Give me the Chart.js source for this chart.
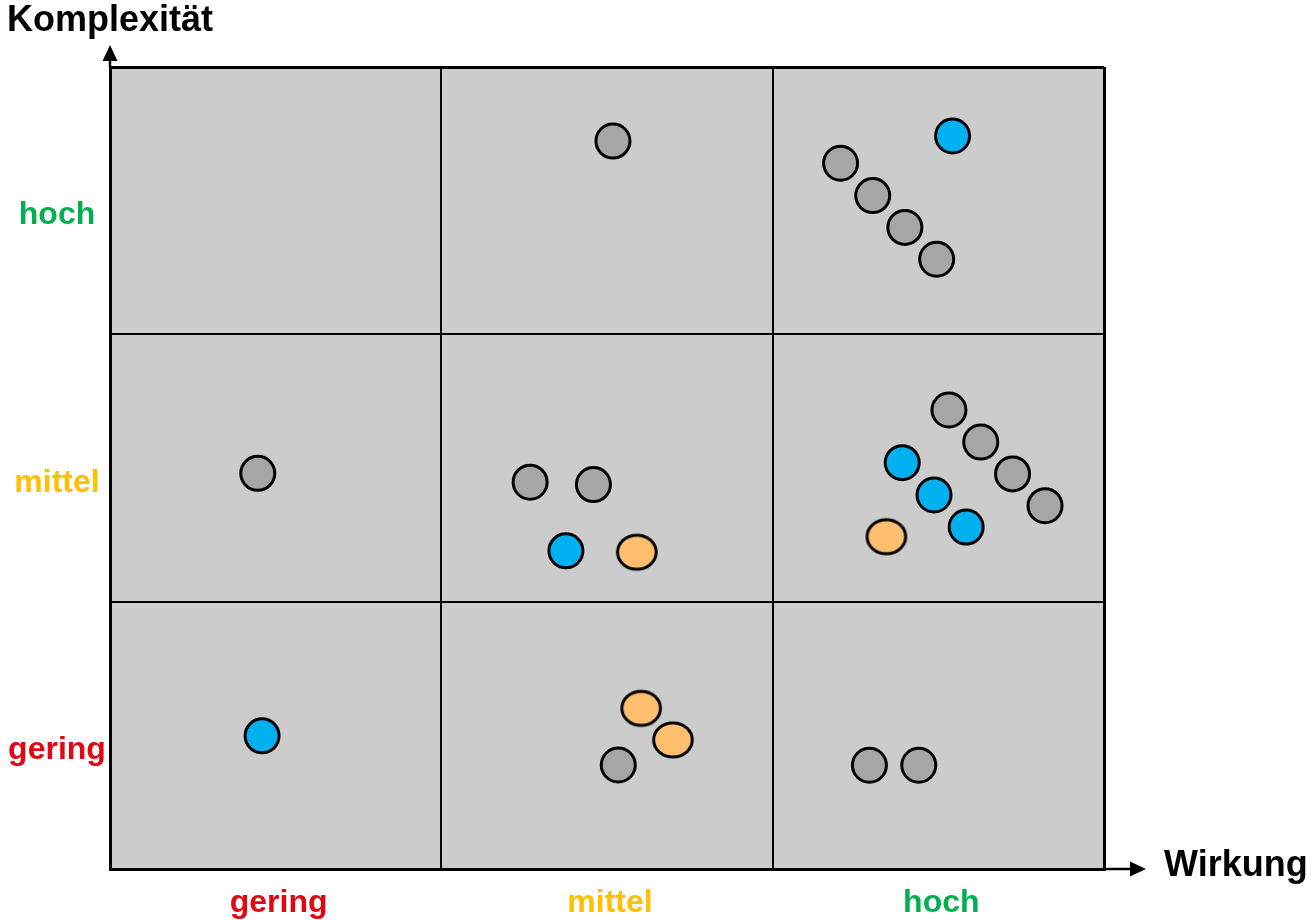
<!DOCTYPE html>
<html lang="de">
<head>
<meta charset="utf-8">
<title>Wirkung / Komplexität</title>
<script src="https://cdn.jsdelivr.net/npm/chart.js@4/dist/chart.umd.min.js"></script>
<style>
  html, body { margin: 0; padding: 0; background: #ffffff; }
  #wrap { width: 1315px; height: 920px; position: relative; }
</style>
</head>
<body>
<div id="wrap"><canvas id="matrix"></canvas></div>
<script>
// Category labels along each axis (low → high)
const xCategories = ['gering', 'mittel', 'hoch'];
const yCategories = ['gering', 'mittel', 'hoch'];
const categoryColors = ['#e30613', '#ffc000', '#00b050'];
const xTitle = 'Wirkung';
const yTitle = 'Komplexität';

// Measures in the matrix: x = Wirkung, y = Komplexität (0–3, one unit per category)
const grayX = [1.518, 2.205, 2.302, 2.399, 2.495, 0.446, 1.268, 1.459, 2.532, 2.628, 2.724, 2.822, 1.534, 2.292, 2.441];
const grayY = [2.723, 2.640, 2.519, 2.400, 2.281, 1.480, 1.447, 1.438, 1.717, 1.597, 1.478, 1.359, 0.389, 0.388, 0.388];

const blueX = [2.543, 2.391, 2.487, 2.584, 1.376, 0.459];
const blueY = [2.742, 1.520, 1.399, 1.279, 1.190, 0.498];

const orangeX = [1.590, 2.343, 1.603, 1.699];
const orangeY = [1.185, 1.243, 0.601, 0.483];

const toPoints = (xs, ys) => xs.map((x, i) => ({ x: x, y: ys[i] }));

// Elliptical marker for the orange series
function ellipseMarker(fill) {
  const c = document.createElement('canvas');
  c.width = 46; c.height = 42;
  const g = c.getContext('2d');
  g.beginPath();
  g.ellipse(23, 21, 19.3, 17, 0, 0, Math.PI * 2);
  g.fillStyle = fill;
  g.fill();
  g.lineWidth = 3;
  g.strokeStyle = '#000000';
  g.stroke();
  return c;
}

// Cell background, axis arrows, category labels and axis titles
const matrixDecor = {
  id: 'matrixDecor',
  beforeDraw(chart) {
    const { ctx, chartArea: a } = chart;
    ctx.save();
    ctx.fillStyle = '#cccccc';
    ctx.fillRect(a.left, a.top, a.right - a.left, a.bottom - a.top);
    ctx.restore();
  },
  afterDraw(chart) {
    const { ctx, chartArea: a, scales } = chart;
    const xs = scales.x, ys = scales.y;
    ctx.save();
    ctx.strokeStyle = '#000000';
    ctx.fillStyle = '#000000';
    ctx.lineWidth = 2.5;

    // vertical axis arrow
    ctx.beginPath();
    ctx.moveTo(a.left, a.top);
    ctx.lineTo(a.left, a.top - 8);
    ctx.stroke();
    ctx.beginPath();
    ctx.moveTo(a.left, a.top - 22);
    ctx.lineTo(a.left - 7.5, a.top - 6);
    ctx.lineTo(a.left + 7.5, a.top - 6);
    ctx.closePath();
    ctx.fill();

    // horizontal axis arrow
    ctx.beginPath();
    ctx.moveTo(a.right, a.bottom);
    ctx.lineTo(a.right + 28, a.bottom);
    ctx.stroke();
    ctx.beginPath();
    ctx.moveTo(a.right + 42, a.bottom);
    ctx.lineTo(a.right + 26, a.bottom - 7.5);
    ctx.lineTo(a.right + 26, a.bottom + 7.5);
    ctx.closePath();
    ctx.fill();

    // category labels
    ctx.font = 'bold 32px "Liberation Sans", Arial, sans-serif';
    ctx.textBaseline = 'middle';
    ctx.textAlign = 'center';
    xCategories.forEach((t, i) => {
      ctx.fillStyle = categoryColors[i];
      ctx.fillText(t, xs.getPixelForValue(i + 0.5) + 3, a.bottom + 34);
    });
    yCategories.forEach((t, i) => {
      ctx.fillStyle = categoryColors[i];
      ctx.fillText(t, 57, ys.getPixelForValue(i + 0.5) + 15);
    });

    // axis titles
    ctx.fillStyle = '#000000';
    ctx.textAlign = 'left';
    ctx.font = 'bold 36px "Liberation Sans", Arial, sans-serif';
    ctx.fillText(yTitle, 7, 21);
    ctx.font = 'bold 36px "Liberation Sans", Arial, sans-serif';
    ctx.fillText(xTitle, 1164, a.bottom - 3);
    ctx.restore();
  }
};

const edgeWidth = ctx => (ctx.tick && (ctx.tick.value === 0 || ctx.tick.value === 3)) ? 3 : 2;

const commonScale = {
  type: 'linear',
  min: 0,
  max: 3,
  ticks: { display: false, stepSize: 1 },
  grid: { color: '#000000', lineWidth: edgeWidth, drawTicks: false },
  border: { display: true, color: '#000000', width: 3 },
  title: { display: false }
};

new Chart(document.getElementById('matrix'), {
  type: 'scatter',
  data: {
    datasets: [
      {
        label: 'grau',
        data: toPoints(grayX, grayY),
        backgroundColor: '#a6a6a6',
        borderColor: '#000000',
        borderWidth: 3,
        pointRadius: 17,
        pointHoverRadius: 17
      },
      {
        label: 'blau',
        data: toPoints(blueX, blueY),
        backgroundColor: '#00b0f0',
        borderColor: '#000000',
        borderWidth: 3,
        pointRadius: 17,
        pointHoverRadius: 17
      },
      {
        label: 'orange',
        data: toPoints(orangeX, orangeY),
        pointStyle: ellipseMarker('#ffbf6f'),
        pointRadius: 20,
        pointHoverRadius: 20
      }
    ]
  },
  options: {
    responsive: true,
    maintainAspectRatio: false,
    animation: false,
    events: [],
    layout: { padding: { left: 110, right: 211, top: 67, bottom: 51 } },
    plugins: {
      legend: { display: false },
      tooltip: { enabled: false }
    },
    scales: {
      x: Object.assign({}, commonScale, {
        afterFit(scale) { scale.height = 0; }
      }),
      y: Object.assign({}, commonScale, {
        afterFit(scale) { scale.width = 0; }
      })
    }
  },
  plugins: [matrixDecor]
});
</script>
</body>
</html>
